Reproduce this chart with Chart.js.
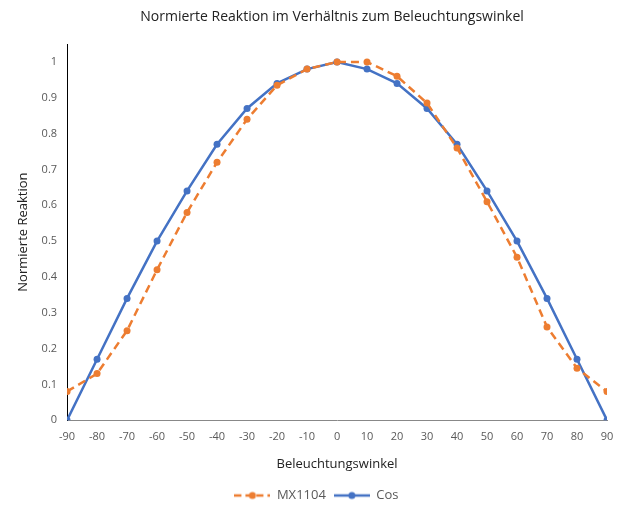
<!DOCTYPE html>
<html>
<head>
<meta charset="utf-8">
<script src="https://cdn.jsdelivr.net/npm/chart.js"></script>
<style>
  html, body { margin: 0; padding: 0; background: #fff; }
  #wrap { width: 618px; height: 506px; }
</style>
</head>
<body>
<div id="wrap"><canvas id="chart"></canvas></div>
<script>
// angles in degrees
var angles = [-90, -80, -70, -60, -50, -40, -30, -20, -10, 0, 10, 20, 30, 40, 50, 60, 70, 80, 90];
// measured sensor response
var mx1104 = [0.08, 0.13, 0.25, 0.42, 0.58, 0.72, 0.84, 0.935, 0.98, 1.0, 1.0, 0.96, 0.885, 0.76, 0.61, 0.455, 0.26, 0.145, 0.08];
// ideal cosine response
var cosVals = [0, 0.17, 0.34, 0.5, 0.64, 0.77, 0.87, 0.94, 0.98, 1.0, 0.98, 0.94, 0.87, 0.77, 0.64, 0.5, 0.34, 0.17, 0];
var yTicks = [0, 0.1, 0.2, 0.3, 0.4, 0.5, 0.6, 0.7, 0.8, 0.9, 1];
var titleText = 'Normierte Reaktion im Verhältnis zum Beleuchtungswinkel';

var orange = '#ED7D31';
var blue = '#4472C4';
var font = "'Open Sans', 'Noto Sans', sans-serif";

function legendIcon(color, dashed) {
    var c = document.createElement('canvas');
    c.width = 36; c.height = 12;
    var g = c.getContext('2d');
    g.strokeStyle = color;
    g.fillStyle = color;
    g.lineWidth = 2.5;
    if (dashed) g.setLineDash([7, 4]);
    g.beginPath();
    g.moveTo(0, 6); g.lineTo(36, 6);
    g.stroke();
    g.beginPath();
    g.arc(18, 6, 3.5, 0, Math.PI * 2);
    g.fill();
    return c;
}
var icons = [legendIcon(orange, true), legendIcon(blue, false)];

function pts(vals) {
    return angles.map(function (a, i) { return { x: a, y: vals[i] }; });
}

// title centred over the plot area, like the original
var plotTitle = {
    id: 'plotTitle',
    afterDraw: function (chart) {
        var a = chart.chartArea, g = chart.ctx;
        g.save();
        g.fillStyle = '#222';
        g.font = '14px ' + font;
        g.textAlign = 'center';
        g.textBaseline = 'middle';
        g.fillText(titleText, (a.left + a.right) / 2 - 5, 17);
        g.restore();
    }
};

var ctx = document.getElementById('chart').getContext('2d');
var myChart = new Chart(ctx, {
    type: 'line',
    data: {
        datasets: [{
            label: 'MX1104',
            data: pts(mx1104),
            borderColor: orange,
            backgroundColor: orange,
            borderWidth: 2.5,
            borderDash: [8, 5],
            pointRadius: 3.5,
            pointBorderWidth: 0,
            tension: 0
        }, {
            label: 'Cos',
            data: pts(cosVals),
            borderColor: blue,
            backgroundColor: blue,
            borderWidth: 2.5,
            pointRadius: 3.5,
            pointBorderWidth: 0,
            tension: 0
        }]
    },
    plugins: [plotTitle],
    options: {
        responsive: true,
        maintainAspectRatio: false,
        animation: false,
        layout: { padding: { left: 15, right: 0, top: 44, bottom: -6 } },
        plugins: {
            title: { display: false },
            legend: {
                position: 'bottom',
                labels: {
                    color: '#595959',
                    font: { family: font, size: 13 },
                    usePointStyle: true,
                    pointStyleWidth: 36,
                    padding: 8,
                    generateLabels: function (chart) {
                        var items = Chart.defaults.plugins.legend.labels.generateLabels(chart);
                        items.forEach(function (it, i) { it.pointStyle = icons[i]; });
                        return items;
                    }
                }
            },
            tooltip: { enabled: false }
        },
        scales: {
            x: {
                type: 'linear',
                min: -90,
                max: 90,
                afterFit: function (scale) { scale.paddingRight = 11; },
                ticks: { stepSize: 10, color: '#595959', font: { family: font, size: 11 }, padding: 10 },
                grid: { display: false, drawTicks: false },
                border: { color: '#888', width: 1 },
                title: {
                    display: true,
                    text: 'Beleuchtungswinkel',
                    color: '#222',
                    font: { family: font, size: 13 },
                    padding: { top: 3, bottom: 9 }
                }
            },
            y: {
                min: 0,
                max: 1.05,
                afterBuildTicks: function (axis) {
                    axis.ticks = yTicks.map(function (v) { return { value: v }; });
                },
                ticks: {
                    color: '#595959',
                    font: { family: font, size: 11 },
                    padding: 10,
                    callback: function (v) { return String(v); }
                },
                grid: { display: false, drawTicks: false },
                border: { color: '#000', width: 1 },
                title: {
                    display: true,
                    text: 'Normierte Reaktion',
                    color: '#222',
                    font: { family: font, size: 13 },
                    padding: { top: 0, bottom: 1 }
                }
            }
        }
    }
});
</script>
</body>
</html>
